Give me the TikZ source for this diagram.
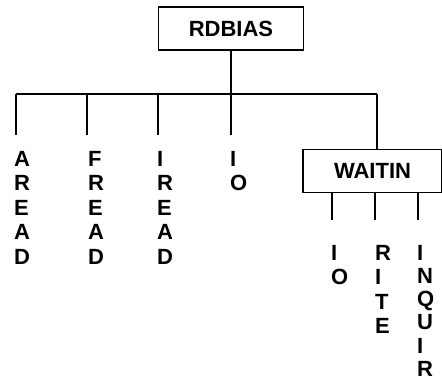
\documentclass[tikz,border=0pt]{standalone}
\usepackage{fontspec}
\setmainfont{Liberation Sans}
\begin{document}
\begin{tikzpicture}[x=1pt,y=-1pt,line width=2.2pt,
  box/.style={draw,line width=1.8pt,minimum height=43pt,inner sep=0pt,font=\bfseries\fontsize{22}{24}\selectfont},
  word/.style={anchor=north west,inner sep=0pt,align=left,font=\bfseries\fontsize{22}{24.5}\selectfont}]
\useasboundingbox (0,0) rectangle (442,381);
\node[box,minimum width=145pt] (rdbias) at (231,28.5) {RDBIAS};
\node[box,minimum width=139pt] (waitin) at (372.5,171) {WAITIN};
% bar under RDBIAS and its drops
\coordinate (b1) at (16,94);
\coordinate (b2) at (87,94);
\coordinate (b3) at (158,94);
\coordinate (b4) at (rdbias.south |- b1);
\coordinate (b5) at (377,94);
\draw (rdbias.south)--(b4);
\draw (b1)--(b5);
\foreach \b in {b1,b2,b3,b4}
  \draw (\b)--++(0,41);
\draw (b5)--(b5 |- waitin.north);
% drops under WAITIN
\coordinate (w1) at (332,192);
\coordinate (w2) at (375,192);
\coordinate (w3) at (418,192);
\foreach \w in {w1,w2,w3}
  \draw (\w)--++(0,28);
\node[word] (aread) at (13,150) {A\\R\\E\\A\\D};
\node[word] (fread) at (87,150) {F\\R\\E\\A\\D};
\node[word] (iread) at (156,150) {I\\R\\E\\A\\D};
\node[word] (io) at (229,150) {I\\O};
\node[word] (wio) at (330,244) {I\\O};
\node[word] (write) at (374,244) {R\\I\\T\\E};
\node[word,font=\bfseries\fontsize{22}{23.2}\selectfont] (inquir) at (416,244) {I\\N\\Q\\U\\I\\R};
\end{tikzpicture}
\end{document}
